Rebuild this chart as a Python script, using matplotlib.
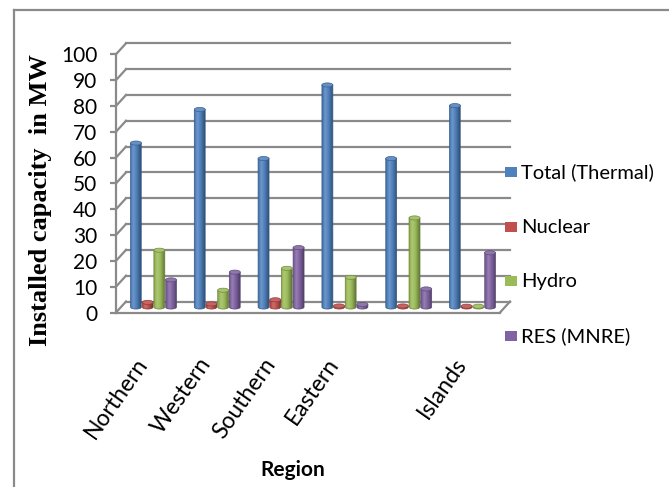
import numpy as np
import matplotlib
matplotlib.use("Agg")
import matplotlib.pyplot as plt
from matplotlib.path import Path
from matplotlib.patches import PathPatch, Ellipse, Rectangle
from matplotlib.lines import Line2D
from matplotlib.colors import to_rgb

regions = ['Northern', 'Western', 'Southern', 'Eastern', '', 'Islands']
thermal = [63.5, 76.5, 57.5, 86, 57.5, 78]
nuclear = [1.8, 1.2, 2.8, 0.4, 0.4, 0.3]
hydro = [22, 6.5, 15, 11.5, 34.5, 0.3]
res = [10.5, 13.5, 23, 1, 7, 21]

series_names = ['Total (Thermal)', 'Nuclear', 'Hydro', 'RES (MNRE)']
series_colors = ['#4F81BD', '#C0504D', '#9BBB59', '#8064A2']
y_ticks = list(range(0, 101, 10))

SANS = ['Lato', 'DejaVu Sans']
GRID = '#8a8a8a'

fig = plt.figure(figsize=(6.69, 4.87), dpi=100)
ax = fig.add_axes([0.1734, 0.3583, 0.574, 0.5302])
xmin, xmax = -0.509, 5.51
ymin, ymax = 0, 100

# depth offset of the back wall (data units), bars sit half-way in
dx, dy = 0.157, 4.26
bx, by = dx / 2, dy / 2
bar_w = 0.172
step = 0.183
cap_h = 1.6


def shade(color, f):
    c = np.array(to_rgb(color))
    if f >= 1:
        return c + (1 - c) * (f - 1)
    return c * f


def cylinder(xc, base, height, color, z):
    left, right = xc - bar_w / 2, xc + bar_w / 2
    top = base + height
    t = np.linspace(np.pi, 2 * np.pi, 20)
    bottom = np.column_stack([xc + np.cos(t) * bar_w / 2, base + np.sin(t) * cap_h / 2])
    verts = np.vstack([[left, top], [left, base], bottom[1:-1], [right, base], [right, top], [left, top]])
    codes = [Path.MOVETO] + [Path.LINETO] * (len(verts) - 2) + [Path.CLOSEPOLY]
    body = PathPatch(Path(verts, codes), facecolor='none', edgecolor=shade(color, 0.7),
                     lw=0.5, zorder=z + 0.2)
    ax.add_patch(body)
    # horizontal shading across the cylinder
    prof = np.interp(np.linspace(0, 1, 40), [0, 0.3, 0.65, 1], [0.85, 1.18, 0.95, 0.62])
    grad = np.array([[shade(color, f) for f in prof]])
    im = ax.imshow(grad, extent=(left, right, base - cap_h / 2, top), aspect='auto',
                   interpolation='bilinear', zorder=z, origin='lower')
    im.set_clip_path(body)
    ax.add_patch(Ellipse((xc, top), bar_w, cap_h, facecolor=shade(color, 1.12),
                         edgecolor=shade(color, 0.75), lw=0.5, zorder=z + 0.3))


# back wall grid and floor
for v in y_ticks:
    if v > 0:
        ax.add_line(Line2D([xmin + dx, xmax + dx], [v + dy, v + dy], color=GRID, lw=1.6,
                           clip_on=False, zorder=1))
    ax.add_line(Line2D([xmin, xmin + dx], [v, v + dy], color=GRID, lw=1.6, clip_on=False, zorder=1))
ax.add_line(Line2D([xmin + dx, xmax + dx], [dy, dy], color=GRID, lw=1.6, clip_on=False, zorder=1))
ax.add_line(Line2D([xmax, xmax + dx], [0, dy], color=GRID, lw=1.6, clip_on=False, zorder=1))

all_series = [thermal, nuclear, hydro, res]
for i in range(len(regions)):
    for k, vals in enumerate(all_series):
        xc = i + (k - 1.5) * step + bx
        cylinder(xc, by, vals[i], series_colors[k], 3 + k * 0.01)

ax.set_xlim(xmin, xmax)
ax.set_ylim(ymin, ymax)
ax.set_facecolor('none')
for s in ['top', 'right']:
    ax.spines[s].set_visible(False)
for s in ['left', 'bottom']:
    ax.spines[s].set_color(GRID)
    ax.spines[s].set_linewidth(1.6)
ax.set_xticks([])
ax.set_yticks(y_ticks)
ax.set_yticklabels([str(v) for v in y_ticks], family=SANS, fontsize=15)
ax.tick_params(axis='y', length=4.5, width=1.6, color=GRID, pad=9)

for i, name in enumerate(regions):
    ax.text(i + 0.05, -16, name, rotation=55, ha='right', va='top', family=SANS,
            fontsize=16.5, clip_on=False)

# legend
rows_y = [172, 227, 281, 336]
W, H = 669, 487
for name, color, yy in zip(series_names, series_colors, rows_y):
    fig.patches.append(Rectangle((505 / W, 1 - (yy + 5) / H), 12 / W, 10 / H,
                                 transform=fig.transFigure, facecolor=color, edgecolor='none', zorder=5))
    fig.text(521 / W, 1 - yy / H, name, family=SANS, fontsize=14.5, va='center', ha='left')

fig.text(41 / W, 1 - 200 / H, 'Installed capacity  in MW', rotation=90, ha='center', va='center',
         family=['Liberation Serif', 'DejaVu Serif'], fontweight='bold', fontsize=19)
fig.text(293 / W, 1 - 470 / H, 'Region', ha='center', va='center', family=SANS,
         fontweight='bold', fontsize=15)

# outer frame: top and left edges only
fig.add_artist(Line2D([14 / W, 1], [1 - 10 / H, 1 - 10 / H], transform=fig.transFigure,
                      color=GRID, lw=1.6))
fig.add_artist(Line2D([14 / W, 14 / W], [0, 1 - 10 / H], transform=fig.transFigure,
                      color=GRID, lw=1.6))

fig.savefig('out.png', dpi=100)
